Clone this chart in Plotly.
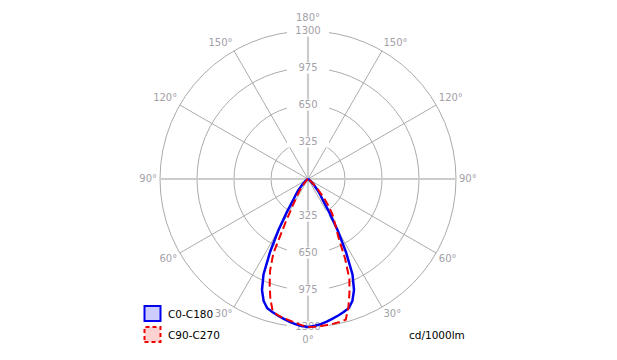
import plotly.graph_objects as go

# gamma angles (deg) and luminous intensities (cd/1000lm)
gamma = [0, 2.5, 5, 7.5, 10, 12.5, 15, 17.5, 20, 22.5, 25, 27.5, 30, 32.5, 35,
         37.5, 40, 45, 50, 55, 60, 70, 80, 90, 180]
c0 = [1300, 1292, 1280, 1264, 1245, 1228, 1210, 1190, 1140, 1056, 925, 720,
      520, 350, 230, 180, 140, 70, 30, 12, 5, 2, 0, 0, 0]
c180 = c0[:]
c90 = [1300, 1298, 1296, 1293, 1290, 1286, 1280, 1180, 1065, 950, 770, 580,
       490, 425, 370, 290, 220, 110, 40, 15, 5, 2, 0, 0, 0]
c270 = [1300, 1285, 1268, 1252, 1240, 1226, 1200, 1100, 985, 870, 720, 420,
        265, 185, 140, 90, 55, 25, 10, 4, 2, 0, 0, 0, 0]

ring_vals = [325, 650, 975, 1300]
ang_vals = [0, 30, 60, 90, 120, 150, 180, 210, 240, 270, 300, 330]
ang_text = ["0°", "30°", "60°", "90°", "120°", "150°", "180°",
            "150°", "120°", "90°", "60°", "30°"]
ang_pos = ["bottom center", "bottom right", "bottom right", "middle right",
           "top right", "top right", "top center", "top left", "top left",
           "middle left", "bottom left", "bottom left"]

series = [
    ("C0-C180", c180, c0, "#0000ee", "solid", "solid", 2.5, "rgba(204,204,255,1)"),
    ("C90-C270", c270, c90, "#ee0000", "8px,4px", "4px,3px", 2, "rgba(255,210,210,1)"),
]

GRID = "#ababab"
LABEL = "#a3a0a8"
FONT = "DejaVu Sans"

W, H = 617, 360
cx, cy, R = 308, 179, 148      # centre and outer-ring radius in pixels
EXTRA = 26                      # room for angular labels (px)
RMAX = ring_vals[-1]
range_max = RMAX * (R + EXTRA) / R


def px_to_r(p):
    return RMAX * (R + p) / R


fig = go.Figure()

# spokes every 30 deg
for t in (30, 60, 120, 150):
    fig.add_trace(go.Scatterpolar(
        r=[RMAX, 0, RMAX], theta=[t, t, t + 180], mode="lines",
        line=dict(color=GRID, width=1), hoverinfo="skip", showlegend=False))
# main axes (lighter, thicker)
for t in (0, 90):
    fig.add_trace(go.Scatterpolar(
        r=[RMAX, 0, RMAX], theta=[t, t, t + 180], mode="lines",
        line=dict(color="#cccccc", width=2.2), hoverinfo="skip", showlegend=False))

# angular labels just outside the outer ring
lab_r = [px_to_r(8 if v in (0, 180) else 3) for v in ang_vals]
fig.add_trace(go.Scatterpolar(
    r=lab_r, theta=ang_vals, mode="text", text=ang_text,
    textposition=ang_pos, marker=dict(size=1),
    textfont=dict(family=FONT, size=10, color=LABEL),
    hoverinfo="skip", showlegend=False))

# radial ring labels with white background, at top and bottom
for th in (180, 0):
    fig.add_trace(go.Scatterpolar(
        r=ring_vals, theta=[th] * len(ring_vals), mode="markers+text",
        text=[str(v) for v in ring_vals], textposition="middle center",
        textfont=dict(family=FONT, size=10, color=LABEL),
        marker=dict(symbol="line-ew", size=30, color="white",
                    line=dict(color="white", width=11)),
        hoverinfo="skip", showlegend=False))

# data curves
for name, left, right, col, dash, ldash, w, fillc in series:
    theta = [360 - g for g in reversed(gamma)] + gamma
    r = list(reversed(left)) + right
    fig.add_trace(go.Scatterpolar(
        r=r, theta=theta, mode="lines", name=name,
        line=dict(color=col, width=w, dash=dash),
        hoverinfo="skip", showlegend=False))

RT = R + EXTRA
fig.update_layout(
    width=W, height=H, margin=dict(l=0, r=0, t=0, b=0),
    paper_bgcolor="white", plot_bgcolor="white",
    showlegend=False,
    polar=dict(
        domain=dict(x=[(cx - RT) / W, (cx + RT) / W],
                    y=[(H - cy - RT) / H, (H - cy + RT) / H]),
        bgcolor="white",
        radialaxis=dict(range=[0, range_max], tickvals=ring_vals, showticklabels=False,
                        ticks="", showline=False, gridcolor=GRID, gridwidth=1),
        angularaxis=dict(rotation=270, direction="counterclockwise",
                         tickvals=ang_vals, showticklabels=False, ticks="",
                         showline=False, showgrid=False),
    ),
)

# legend drawn as boxes + labels
shapes = []
annots = []
box_x0, box_x1 = 144.5, 160.5
for i, (name, left, right, col, dash, ldash, w, fillc) in enumerate(series):
    yc = 313.5 + i * 21
    shapes.append(dict(type="rect", xref="paper", yref="paper",
                       x0=box_x0 / W, x1=box_x1 / W,
                       y0=1 - (yc + 7.5) / H, y1=1 - (yc - 7.5) / H,
                       fillcolor=fillc, line=dict(color=col, width=2, dash=ldash)))
    annots.append(dict(xref="paper", yref="paper", x=166 / W, y=1 - yc / H,
                       text=name, showarrow=False, xanchor="left", yanchor="middle",
                       font=dict(family=FONT, size=10.5, color="black")))
annots.append(dict(xref="paper", yref="paper", x=407 / W, y=1 - 335 / H,
                   text="cd/1000lm", showarrow=False, xanchor="left", yanchor="middle",
                   font=dict(family=FONT, size=10.5, color="black")))
fig.update_layout(shapes=shapes, annotations=annots)

fig.write_html("out.html")
